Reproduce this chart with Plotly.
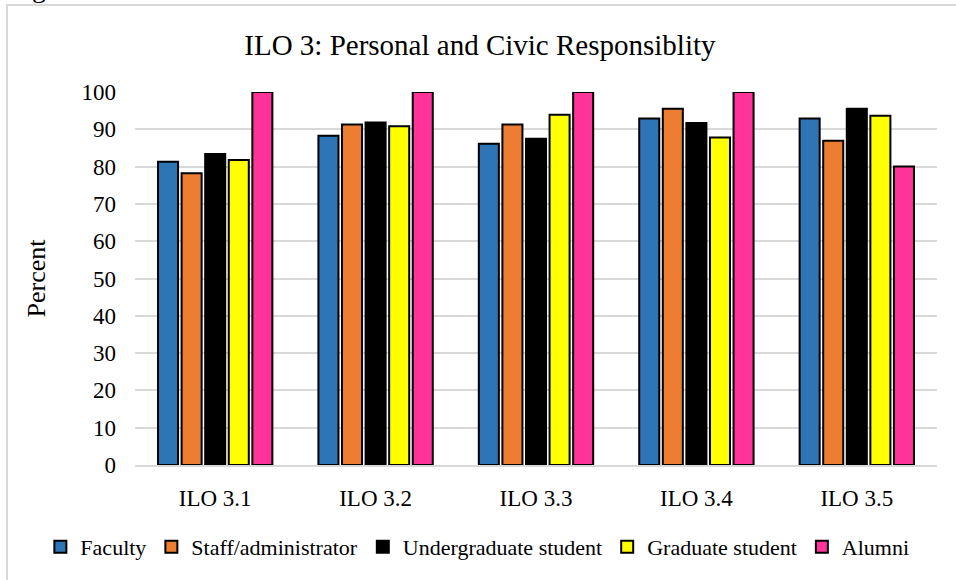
import plotly.graph_objects as go

categories = ['ILO 3.1', 'ILO 3.2', 'ILO 3.3', 'ILO 3.4', 'ILO 3.5']
faculty = [81.3, 88.3, 86.1, 92.9, 92.9]
staff = [78.2, 91.3, 91.3, 95.5, 86.9]
undergrad = [83.4, 91.8, 87.5, 91.7, 95.5]
graduate = [81.8, 90.8, 93.9, 87.8, 93.6]
alumni = [100, 100, 100, 100, 80]

series = [
    ('Faculty', faculty, '#2e75b6'),
    ('Staff/administrator', staff, '#ed7d31'),
    ('Undergraduate student', undergrad, '#000000'),
    ('Graduate student', graduate, '#ffff00'),
    ('Alumni', alumni, '#ff3399'),
]

font_family = 'Liberation Serif, Times New Roman, serif'

fig = go.Figure()
for name, vals, color in series:
    fig.add_trace(go.Bar(
        x=categories, y=vals, name=name,
        marker=dict(color=color, line=dict(color='black', width=2)),
    ))

fig.update_layout(
    width=956, height=580,
    margin=dict(l=135, r=19, t=92, b=115, autoexpand=False),
    plot_bgcolor='white',
    paper_bgcolor='white',
    font=dict(family=font_family, size=23, color='black'),
    title=dict(text='ILO 3: Personal and Civic Responsiblity', x=0.502, xanchor='center',
               y=0.922, yanchor='middle', font=dict(family=font_family, size=29)),
    barmode='group',
    bargap=0.265,
    bargroupgap=0.15,
    # anchored left of the plot so the whole row may use the left margin too
    legend=dict(orientation='h', x=-0.118, xanchor='left',
                y=-0.22, yanchor='middle', itemwidth=30, traceorder='normal',
                font=dict(family=font_family, size=22, color='black')),
    xaxis=dict(showgrid=False, showline=True, linecolor='#d9d9d9', linewidth=1.5,
               ticks='', ticklabelstandoff=12),
    yaxis=dict(range=[0, 100], dtick=10, showgrid=True, gridcolor='#d9d9d9', gridwidth=1.5,
               zeroline=False, showline=False, ticks='', ticklabelstandoff=18,
               title=dict(text='Percent', font=dict(family=font_family, size=26), standoff=28)),
)

# outer chart border (runs past the right and bottom of the view)
fig.add_shape(type='rect', xref='paper', yref='paper',
              x0=-0.1596, x1=1.03, y0=-0.33, y1=1.2332,
              line=dict(color='#d9d9d9', width=2), fillcolor='rgba(0,0,0,0)', layer='below')

# clipped caption fragment at the very top
fig.add_annotation(text='g', xref='paper', yref='paper', x=-0.12, y=1.279,
                   xanchor='center', yanchor='middle', showarrow=False,
                   font=dict(family=font_family, size=28))

fig.write_html('out.html', config={'displayModeBar': False},
               post_script="document.body.style.margin = '0';")
